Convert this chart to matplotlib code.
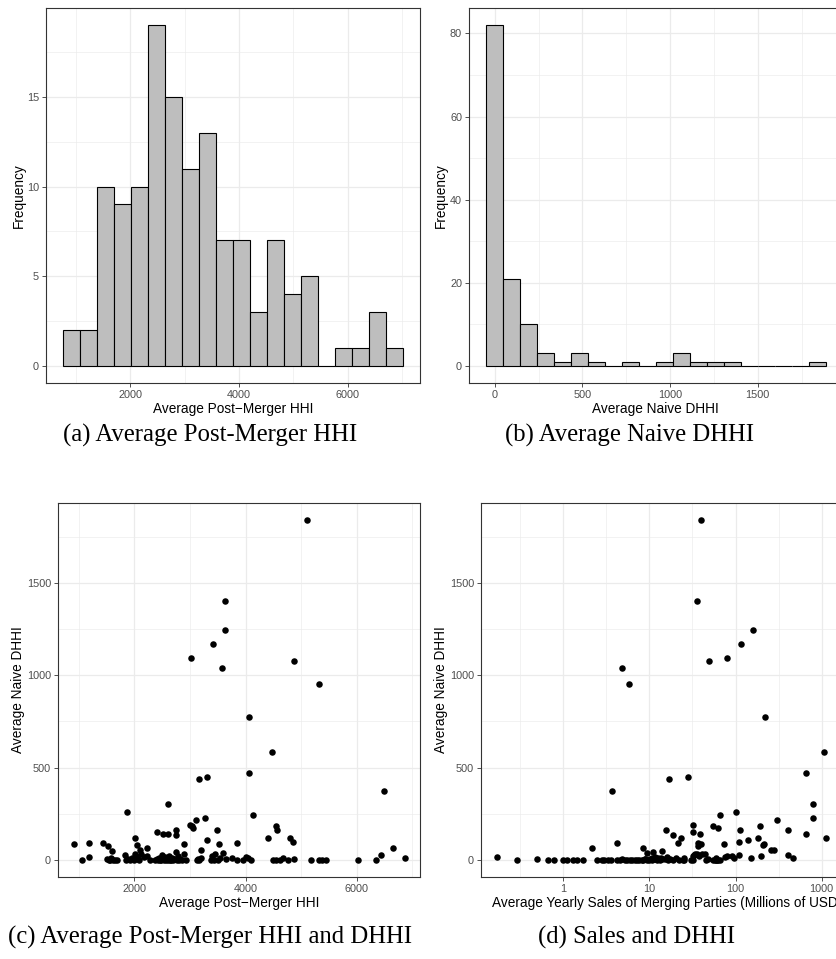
import numpy as np
import matplotlib
matplotlib.use("Agg")
import matplotlib.pyplot as plt
from matplotlib.ticker import FixedLocator, NullFormatter

# ---- data ----
# points with larger DHHI: post-merger HHI, naive DHHI, yearly sales (mil USD)
hhi_top = [5112, 3631, 3626, 3421, 3014, 4872, 3577, 5322, 4068, 4471,
           4068, 3308, 3164, 6491, 2600, 1863, 4135, 3280, 3110, 3000,
           3030, 3060, 2745, 2410, 3487, 4550, 4570, 2745, 2520, 2600,
           4400, 4800, 4850, 3302, 3842, 3520, 2894, 2007, 2050, 2220,
           923, 1180, 1432, 1520, 1600, 3200, 6658, 2100,
           1180, 2745, 3590, 6437, 6869]
dhhi_top = [1840, 1399, 1246, 1171, 1095, 1079, 1041, 955, 772, 583,
            470, 450, 439, 373, 303, 261, 245, 229, 219, 190,
            182, 175, 160, 150, 160, 185, 160, 137, 140, 143,
            120, 120, 96, 110, 92, 85, 85, 120, 80, 65,
            85, 90, 92, 75, 50, 55, 65, 52,
            18, 45, 40, 28, 10]
sales_top = [39.4, 36, 158, 115, 80, 49.6, 4.76, 5.8, 220, 1072,
             658, 28.3, 17, 3.65, 786, 100, 66, 786, 300, 31.8,
             192, 62, 15.4, 31.8, 112, 54.3, 403, 18.6, 38.6, 658,
             181, 1122, 110, 141, 21.7, 39.8, 74, 23.3, 209, 2.17,
             215, 4.24, 36.9, 37, 14, 280, 8.5, 260,
             0.171, 11, 9.5, 410, 470]

# points with DHHI close to zero
hhi_low = [1065,
           1510, 1540, 1560, 1590, 1620, 1660, 1690,
           1830, 1850, 1880, 1930, 1960, 1990, 2010,
           2030, 2060, 2090, 2120, 2170, 2230, 2280,
           2380, 2400, 2420, 2440, 2460, 2480, 2500, 2510, 2530, 2550, 2570, 2590, 2610, 2625, 2640,
           2660, 2680, 2700, 2720, 2760, 2780, 2800, 2830, 2860, 2900, 2930,
           3130, 3150, 3170, 3200,
           3380, 3400, 3430, 3460, 3500, 3550,
           3650, 3760, 3850,
           3950, 4010, 4050, 4100,
           4500,
           4550, 4620, 4680, 4760,
           4880,
           5180, 5330, 5380, 5440,
           6030,
           6350]
dhhi_low = [0,
            5, 0, 0, 10, 0, 2, 0,
            25, 0, 5, 0, 12, 0, 30,
            20, 8, 0, 35, 15, 20, 0,
            0, 5, 0, 10, 0, 0, 25, 3, 0, 15, 0, 8, 0, 20, 0,
            0, 10, 0, 5, 0, 20, 0, 8, 0, 30, 0,
            0, 5, 0, 10,
            0, 20, 0, 30, 0, 10,
            5, 12, 0,
            0, 15, 10, 0,
            0,
            0, 0, 10, 0,
            5,
            0, 0, 0, 0,
            0,
            0]
sales_low = [0.29,
             0.49, 0.66, 0.78, 10.6, 0.98, 1.1, 1.3,
             110, 1.45, 9.0, 1.7, 13.8, 2.45, 36.0,
             80, 12.0, 2.85, 44.0, 15.8, 200, 3.0,
             3.3, 10.2, 3.6, 16.0, 4.2, 4.5, 33.0, 4.8, 5.2, 11.6, 5.5, 14.0, 6.0, 32.0, 6.3,
             6.8, 12.6, 7.1, 8.9, 7.5, 38.0, 8.1, 15.2, 8.5, 34.0, 9.3,
             9.8, 11.2, 10.8, 150,
             12.2, 90, 13.3, 40.4, 16.6, 20.4,
             17.5, 25.0, 18.9,
             22.0, 75, 95, 24.7,
             25.4,
             30.0, 31.8, 60, 46.0,
             48.3,
             55.0, 58.0, 59.3, 61.0,
             63.0,
             66.0]

hhi = np.array(hhi_top + hhi_low, dtype=float)
dhhi = np.array(dhhi_top + dhhi_low, dtype=float)
sales = np.array(sales_top + sales_low, dtype=float)

captions = ["(a) Average Post-Merger HHI", "(b) Average Naive DHHI",
            "(c) Average Post-Merger HHI and DHHI", "(d) Sales and DHHI"]

# ---- style (ggplot theme_bw look) ----
plt.rcParams['font.family'] = ['Liberation Sans', 'DejaVu Sans']
GRID = '#EBEBEB'
TICKC = '#4D4D4D'
BORDER = '#333333'

W, H = 836, 959
fig = plt.figure(figsize=(W / 100, H / 100), dpi=100)


def px_axes(left, right, top, bottom, **kw):
    return fig.add_axes([left / W, 1 - bottom / H, (right - left) / W, (bottom - top) / H], **kw)


def style(ax, xmaj, xmin, ymaj, ymin, xlabel, ylabel, ypad=1.5):
    ax.xaxis.set_major_locator(FixedLocator(xmaj))
    ax.xaxis.set_minor_locator(FixedLocator(xmin))
    ax.yaxis.set_major_locator(FixedLocator(ymaj))
    ax.yaxis.set_minor_locator(FixedLocator(ymin))
    ax.xaxis.set_minor_formatter(NullFormatter())
    ax.grid(which='major', color=GRID, lw=0.9)
    ax.grid(which='minor', color=GRID, lw=0.45)
    ax.set_axisbelow(True)
    ax.tick_params(which='major', length=3, width=0.6, color=BORDER, labelcolor=TICKC,
                   labelsize=7.8, pad=2)
    ax.tick_params(which='minor', length=0)
    for s in ax.spines.values():
        s.set_color(BORDER)
        s.set_linewidth(0.8)
    ax.set_xlabel(xlabel, fontsize=9.8, labelpad=1.5)
    ax.set_ylabel(ylabel, fontsize=9.8, labelpad=ypad)


def gg_bins(x, n=20):
    w = (x.max() - x.min()) / (n - 1)
    return x.min() - w / 2 + w * np.arange(n + 1)


# (a) histogram of HHI
ax = px_axes(46, 420, 8, 383)
ax.hist(hhi, bins=gg_bins(hhi), color='#BEBEBE', edgecolor='black', linewidth=0.8)
ax.set_xlim(449, 7330)
ax.set_ylim(-0.95, 19.95)
style(ax, [2000, 4000, 6000], [1000, 3000, 5000, 7000], [0, 5, 10, 15], [2.5, 7.5, 12.5, 17.5],
      'Average Post\u2212Merger HHI', 'Frequency', ypad=1.0)

# (b) histogram of DHHI
ax = px_axes(469, 842, 8, 383)
ax.hist(dhhi, bins=gg_bins(dhhi), color='#BEBEBE', edgecolor='black', linewidth=0.8)
ax.set_xlim(-146.6, 1981)
ax.set_ylim(-4.1, 86.1)
style(ax, [0, 500, 1000, 1500], [250, 750, 1250, 1750], [0, 20, 40, 60, 80], [10, 30, 50, 70],
      'Average Naive DHHI', 'Frequency', ypad=1.5)

# (c) scatter HHI vs DHHI
ax = px_axes(58, 420, 503, 877)
ax.scatter(hhi, dhhi, s=22, color='black', linewidths=0)
ax.set_xlim(628, 7138)
ax.set_ylim(-92, 1932)
style(ax, [2000, 4000, 6000], [1000, 3000, 5000, 7000], [0, 500, 1000, 1500], [250, 750, 1250, 1750],
      'Average Post\u2212Merger HHI', 'Average Naive DHHI', ypad=1.5)

# (d) scatter sales vs DHHI, log x
ax = px_axes(481, 842, 503, 877)
ax.scatter(sales, dhhi, s=22, color='black', linewidths=0)
ax.set_xscale('log')
ax.set_xlim(0.1108, 1722)
ax.set_ylim(-92, 1932)
style(ax, [1, 10, 100, 1000], [10 ** -0.5, 10 ** 0.5, 10 ** 1.5, 10 ** 2.5, 10 ** 3.5],
      [0, 500, 1000, 1500], [250, 750, 1250, 1750],
      'Average Yearly Sales of Merging Parties (Millions of USD)', 'Average Naive DHHI', ypad=1.5)
ax.set_xticklabels(['1', '10', '100', '1000'])
ax.xaxis.label.set_x(0.515)

# captions
cap_pos = [(210, 435), (630, 435), (210, 937), (637, 937)]
for (cx, cy), txt in zip(cap_pos, captions):
    fig.text(cx / W, 1 - cy / H, txt, ha='center', va='center', fontsize=17.8,
             family=['Liberation Serif', 'DejaVu Serif'])

fig.savefig('out.png', dpi=100)
